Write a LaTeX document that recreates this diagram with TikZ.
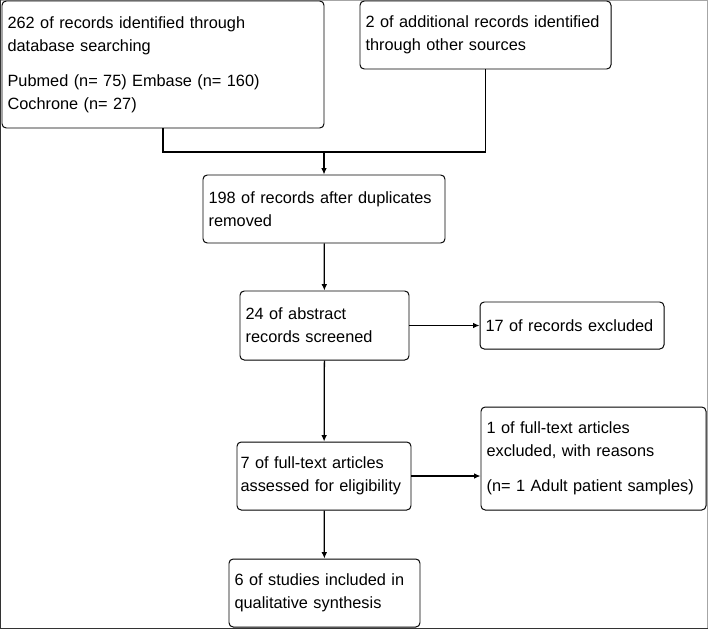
\documentclass[tikz,border=0pt]{standalone}
\usepackage{fontspec}
\setmainfont{Liberation Sans}
\usetikzlibrary{arrows.meta,positioning}

\begin{document}
\begin{tikzpicture}[
    box/.style={rectangle, draw, line width=0.7pt, rounded corners=3pt, align=left,
        inner xsep=0.14cm, inner ysep=0pt, font=\fontsize{11.6}{16.3}\selectfont},
    arrow/.style={-{Latex[length=4.5pt,width=4pt]}, line width=0.9pt}
]
    % Frame of the figure
    \useasboundingbox (0,0) rectangle (17.7,-15.725);
    \draw[gray!70, line width=0.6pt] (0.01,-0.01) rectangle (17.69,-15.715);
    \draw[black!80, line width=0.8pt] (0.012,-0.01) -- (0.012,-15.705) -- (17.69,-15.705);

    % Identification
    \node[box, text width=7.77cm, minimum height=3.175cm] (dbsearch) at (4.075,-1.6125)
        {262 of records identified through\\database searching\\[0.3cm]Pubmed (n= 75) Embase (n= 160)\\Cochrone (n= 27)};
    \node[box, text width=5.995cm, minimum height=1.7cm] (othersrc) at (12.1375,-0.875)
        {2 of additional records identified\\through other sources};

    % Duplicates removed
    \node[box, text width=5.77cm, minimum height=1.7cm] (dedup) at (8.1,-5.225)
        {198 of records after duplicates\\removed};

    % Screening
    \node[box, text width=3.945cm, minimum height=1.725cm] (screened) at (8.1125,-8.1375)
        {24 of abstract\\records screened};
    \node[box, text width=4.32cm, minimum height=1.175cm] (excl1) at (14.3,-8.1375)
        {17 of records excluded};

    % Eligibility
    \node[box, text width=4.17cm, inner xsep=0.09cm, minimum height=1.7cm] (fulltext) at (8.1,-11.9)
        {7 of full-text articles\\\mbox{assessed for eligibility}};
    \node[box, text width=5.345cm, minimum height=2.575cm] (excl2) at (14.8375,-11.4625)
        {1 of full-text articles\\excluded, with reasons\\[0.3cm](n= 1 Adult patient samples)};

    % Included
    \node[box, text width=4.495cm, minimum height=1.7cm] (included) at (8.1125,-14.825)
        {6 of studies included in\\qualitative synthesis};

    % Arrows
    \coordinate (join) at (8.1,-3.8);
    \draw[line width=0.9pt] (dbsearch.south) |- (join) -| (othersrc.south);
    \draw[arrow] (join) -- (dedup);
    \draw[arrow] (dedup) -- (screened);
    \draw[arrow] (screened) -- (excl1);
    \draw[arrow] (screened) -- (fulltext);
    \draw[arrow] (fulltext.east) -- (fulltext.east -| excl2.west);
    \draw[arrow] (fulltext) -- (included);

\end{tikzpicture}
\end{document}
